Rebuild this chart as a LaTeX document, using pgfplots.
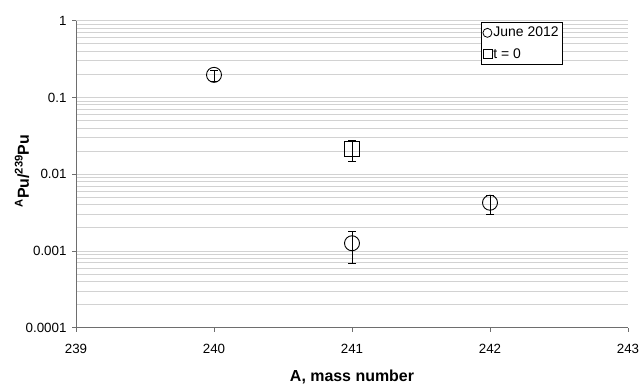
\documentclass[border=0pt]{standalone}
\usepackage{fontspec}
\setmainfont{Liberation Sans}
\usepackage{pgfplots}
\pgfplotsset{compat=1.18}
\definecolor{gridc}{RGB}{210,210,210}
\definecolor{axc}{RGB}{110,110,110}
\begin{document}
\begin{tikzpicture}
\begin{axis}[
  scale only axis, width=552bp, height=307bp,
  xmin=239, xmax=243, ymode=log, ymin=1e-4, ymax=1,
  xtick={239,240,241,242,243},
  xticklabels={239,240,241,242,243},
  ytick={1e-4,1e-3,1e-2,1e-1,1},
  yticklabels={0.0001,0.001,0.01,0.1,1},
  axis x line*=bottom, axis y line*=left,
  axis line style={axc, line width=0.8bp, -},
  major tick length=4bp,
  tick style={axc, line width=0.8bp},
  xtick pos=bottom, ytick pos=left,
  xtick align=outside, ytick align=outside,
  minor y tick num=8,
  minor tick length=0pt,
  ymajorgrids, yminorgrids,
  major grid style={gridc, line width=0.8bp},
  minor grid style={gridc, line width=0.8bp},
  tick label style={font=\fontsize{13.4}{15}\selectfont, text=black},
  xticklabel style={yshift=-9bp},
  yticklabel style={xshift=-2bp},
  xlabel={\textbf{A, mass number}},
  ylabel={\textbf{\textsuperscript{A}Pu/\textsuperscript{239}Pu}},
  label style={font=\fontsize{16}{18}\selectfont},
  xlabel style={at={(axis description cs:0.5,-0.16)}, anchor=center},
  ylabel style={at={(axis description cs:-0.098,0.51)}, anchor=center},
  legend style={at={(rel axis cs:0.733,0.996)}, anchor=north west,
    draw=black, line width=0.6bp, font=\fontsize{14}{16}\selectfont,
    inner xsep=2bp, inner ysep=3bp, row sep=6bp, legend cell align=left,
    nodes={inner xsep=1.5bp}},
  legend image code/.code={\draw[mark size=4.5bp, line width=0.8bp, mark options={draw=black, fill=white}] plot coordinates {(0bp,0bp)};},
  clip=false,
]
\addplot[only marks, mark=o, mark size=7.5bp, line width=0.9bp, black,
  error bars/.cd, y dir=both, y explicit,
  error bar style={line width=0.9bp, black},
  error mark options={rotate=90, mark size=4bp, line width=0.9bp, black}]
  coordinates {
  (240,0.197) += (0,0.028) -= (0,0.037)
  (241,0.00126) += (0,0.00051) -= (0,0.00057)
  (242,0.00425) += (0,0.00104) -= (0,0.00128)
  };
\addlegendentry{June 2012}
\addplot[only marks, mark=square, mark size=7.3bp, line width=0.9bp, black,
  error bars/.cd, y dir=both, y explicit,
  error bar style={line width=0.9bp, black},
  error mark options={rotate=90, mark size=4bp, line width=0.9bp, black}]
  coordinates {
  (241,0.0214) += (0,0.0063) -= (0,0.0068)
  };
\addlegendentry{t = 0}
\end{axis}
\pgfresetboundingbox
\path[use as bounding box] ([xshift=-76bp,yshift=-58bp]current axis.south west) rectangle ([xshift=13bp,yshift=20.7bp]current axis.north east);
\end{tikzpicture}
\end{document}
